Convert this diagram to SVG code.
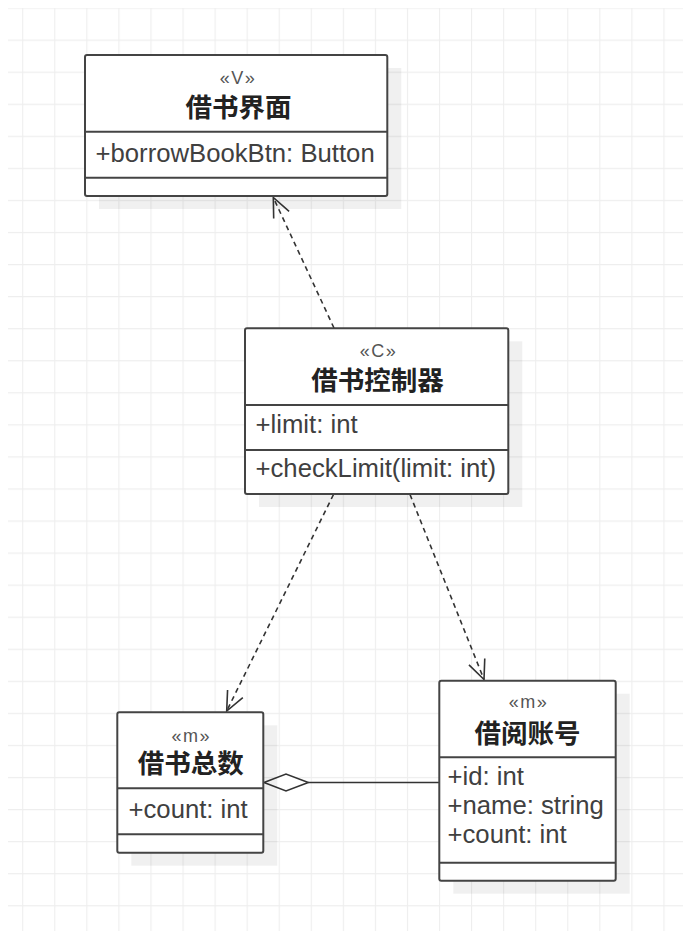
<svg xmlns="http://www.w3.org/2000/svg" width="683" height="931" viewBox="0 0 683 931">
<style>
.box{fill:#ffffff;stroke:#444444;stroke-width:2}
.sep{stroke:#444444;stroke-width:2;fill:none}
.shadow{fill:#000000;fill-opacity:0.06}
.st{font-family:"Liberation Sans",Arial,"Noto Sans CJK SC",sans-serif;font-size:18px;fill:#555555;text-anchor:middle;letter-spacing:1.5px}
.tt{font-family:"Liberation Sans",Arial,"Noto Sans CJK SC",sans-serif;font-size:26.5px;font-weight:bold;fill:#222222;text-anchor:middle}
.at{font-family:"Liberation Sans",Arial,"Noto Sans CJK SC",sans-serif;font-size:25.7px;fill:#404040}
.dep{fill:none;stroke:#333333;stroke-width:1.6;stroke-dasharray:5 4}
.sol{fill:none;stroke:#333333;stroke-width:1.6}
</style>
<defs>
<pattern id="grid" patternUnits="userSpaceOnUse" x="22.2" y="7.5" width="32.06" height="32.06">
<path d="M0,0.5 H32.06 M0.5,0 V32.06" fill="none" stroke="#eeeeee" stroke-width="1.2"/>
</pattern>
<marker id="open" markerUnits="userSpaceOnUse" viewBox="-23 -11 25 22" refX="0" refY="0" markerWidth="25" markerHeight="22" orient="auto" overflow="visible">
<path d="M-19.2,-8.5 L0,0 L-19.2,8.5" fill="none" stroke="#333333" stroke-width="1.6" stroke-dasharray="none"/>
</marker>
</defs>
<rect x="0" y="0" width="683" height="931" fill="#ffffff"/>
<rect x="8" y="8" width="675" height="923" fill="url(#grid)"/>

<g id="connectors">
<line class="dep" x1="334" y1="328" x2="273.3" y2="197.5" marker-end="url(#open)"/>
<line class="dep" x1="333.5" y1="494.5" x2="226.7" y2="711" marker-end="url(#open)"/>
<line class="dep" x1="410" y1="494.5" x2="484" y2="679.5" marker-end="url(#open)"/>
<line class="sol" x1="308.3" y1="782.5" x2="439.3" y2="782.5"/>
<polygon points="264,782.5 286,774 308.3,782.5 286,791" fill="#ffffff" stroke="#333333" stroke-width="1.6"/>
</g>

<g id="node-view">
<rect class="shadow" x="99" y="68" width="302.3" height="141"/>
<rect class="box" x="85" y="55" width="302.3" height="141" rx="2"/>
<line class="sep" x1="85" y1="131.7" x2="387.3" y2="131.7"/>
<line class="sep" x1="85" y1="177.7" x2="387.3" y2="177.7"/>
<text class="st" x="238" y="84">«V»</text>
<text class="tt" x="238.5" y="116.7">借书界面</text>
<text class="at" x="95.5" y="162.3">+borrowBookBtn: Button</text>
</g>

<g id="node-controller">
<rect class="shadow" x="259" y="341.3" width="263.3" height="165.7"/>
<rect class="box" x="245" y="328.3" width="263.3" height="165.7" rx="2"/>
<line class="sep" x1="245" y1="405" x2="508.3" y2="405"/>
<line class="sep" x1="245" y1="450" x2="508.3" y2="450"/>
<text class="st" x="378.5" y="356.7">«C»</text>
<text class="tt" x="377.5" y="390">借书控制器</text>
<text class="at" x="255.5" y="433">+limit: int</text>
<text class="at" x="255.5" y="477">+checkLimit(limit: int)</text>
</g>

<g id="node-total">
<rect class="shadow" x="131.3" y="725.3" width="146" height="140.4"/>
<rect class="box" x="117.3" y="712.3" width="146" height="140.4" rx="2"/>
<line class="sep" x1="117.3" y1="788.3" x2="263.3" y2="788.3"/>
<line class="sep" x1="117.3" y1="834.3" x2="263.3" y2="834.3"/>
<text class="st" x="191.3" y="741.7">«m»</text>
<text class="tt" x="190.8" y="773.3">借书总数</text>
<text class="at" x="128.5" y="818.3">+count: int</text>
</g>

<g id="node-account">
<rect class="shadow" x="453.3" y="693.7" width="176.4" height="200"/>
<rect class="box" x="439.3" y="680.7" width="176.4" height="200" rx="2"/>
<line class="sep" x1="439.3" y1="757.3" x2="615.7" y2="757.3"/>
<line class="sep" x1="439.3" y1="862.7" x2="615.7" y2="862.7"/>
<text class="st" x="528.5" y="708.3">«m»</text>
<text class="tt" x="527.5" y="742.7">借阅账号</text>
<text class="at" x="447.5" y="785">+id: int</text>
<text class="at" x="447.5" y="814.3">+name: string</text>
<text class="at" x="447.5" y="843">+count: int</text>
</g>
</svg>
